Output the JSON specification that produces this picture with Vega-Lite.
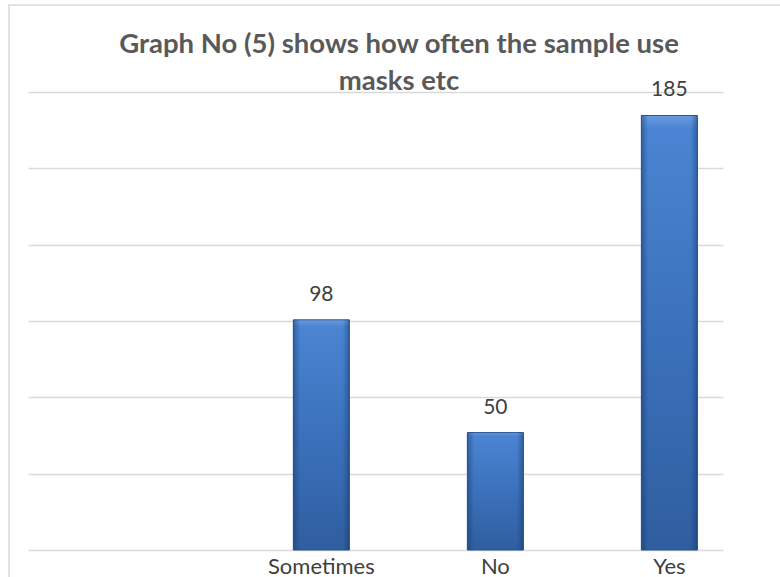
{
  "$schema": "https://vega.github.io/schema/vega-lite/v6.json",
  "width": 771,
  "height": 572,
  "autosize": {"type": "none"},
  "padding": {"left": 9, "top": 5, "right": 0, "bottom": 0},
  "background": "white",
  "config": {
    "view": {
      "stroke": "#d9d9d9",
      "strokeWidth": 1.5,
      "strokeDash": [771, 1343, 572]
    },
    "font": "Lato"
  },
  "title": {
    "text": ["Graph No (5) shows how often the sample use", "masks etc"],
    "font": "Lato",
    "fontSize": 27.5,
    "fontWeight": "bold",
    "color": "#595959",
    "anchor": "start",
    "frame": "bounds",
    "align": "center",
    "dx": 390,
    "lineHeight": 37,
    "offset": -90
  },
  "data": {
    "values": [
      {"answer": "Sometimes", "count": 98},
      {"answer": "No", "count": 50},
      {"answer": "Yes", "count": 185}
    ]
  },
  "encoding": {
    "x": {
      "field": "answer",
      "type": "nominal",
      "sort": null,
      "scale": {
        "domain": ["Sometimes", "No", "Yes"],
        "range": [19, 714],
        "paddingInner": 0.678,
        "paddingOuter": 0.836,
        "align": 0.912
      },
      "axis": {
        "title": null,
        "orient": "bottom",
        "offset": -27,
        "domain": false,
        "ticks": false,
        "grid": false,
        "labelAngle": 0,
        "labelFont": "Lato",
        "labelFontSize": 22,
        "labelColor": "#404040",
        "labelBaseline": "middle",
        "labelPadding": 16
      }
    },
    "y": {
      "field": "count",
      "type": "quantitative",
      "scale": {"domain": [0, 195], "range": [545, 87], "nice": false, "zero": true},
      "axis": {
        "title": null,
        "values": [0, 32.5, 65, 97.5, 130, 162.5, 195],
        "grid": true,
        "gridColor": "#d9d9d9",
        "gridWidth": 1.5,
        "labels": false,
        "ticks": false,
        "domain": false
      }
    }
  },
  "layer": [
    {
      "mark": {
        "type": "bar",
        "stroke": "#2a5590",
        "strokeWidth": 1,
        "color": {
          "gradient": "linear",
          "x1": 0, "y1": 0, "x2": 0, "y2": 1,
          "stops": [
            {"offset": 0, "color": "#6a9be0"},
            {"offset": 0.03, "color": "#4a84d2"},
            {"offset": 0.5, "color": "#3b71bc"},
            {"offset": 1, "color": "#2f5e9f"}
          ]
        }
      }
    },
    {
      "mark": {
        "type": "bar",
        "color": {
          "gradient": "linear",
          "x1": 0, "y1": 0, "x2": 1, "y2": 0,
          "stops": [
            {"offset": 0, "color": "rgba(20,50,100,0.45)"},
            {"offset": 0.12, "color": "rgba(20,50,100,0.0)"},
            {"offset": 0.88, "color": "rgba(20,50,100,0.0)"},
            {"offset": 1, "color": "rgba(20,50,100,0.45)"}
          ]
        }
      }
    },
    {
      "mark": {
        "type": "text",
        "baseline": "middle",
        "align": "center",
        "dy": -25,
        "font": "Lato",
        "fontSize": 21,
        "color": "#404040"
      },
      "encoding": {"text": {"field": "count", "type": "quantitative"}}
    }
  ]
}
